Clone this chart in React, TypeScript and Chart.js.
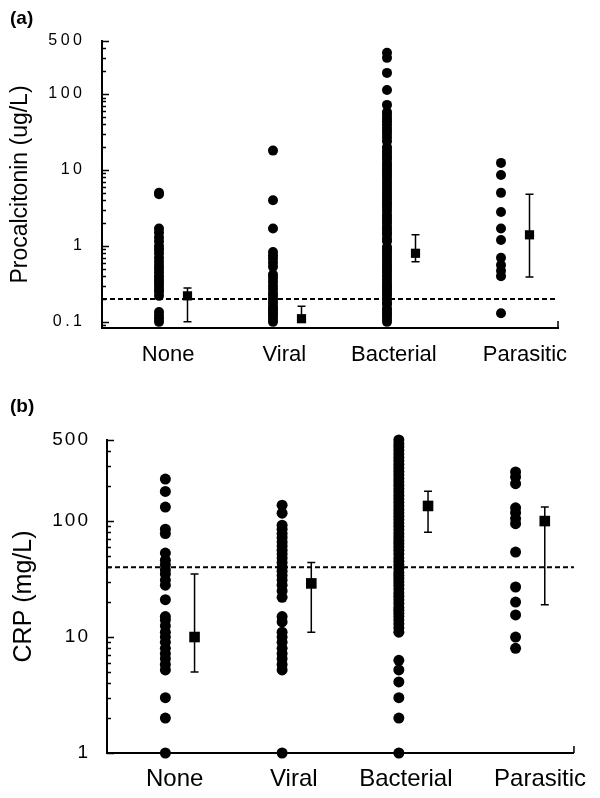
import React, { useEffect, useRef } from "react";
import { Chart, registerables } from "chart.js";

Chart.register(...registerables);

// ---------------- data ----------------
const categories = ["None", "Viral", "Bacterial", "Parasitic"];

// (a) Procalcitonin (ug/L)
const pctNone = [5.0, 4.8, 1.7, 1.5, 1.3, 1.15, 1.0, 0.9, 0.8, 0.7, 0.62, 0.55, 0.5, 0.45, 0.4, 0.36, 0.33, 0.3, 0.27, 0.25, 0.22, 0.135, 0.12, 0.11, 0.1];
const pctViral = [18, 4.0, 1.7, 0.83, 0.75, 0.68, 0.6, 0.53, 0.42, 0.38, 0.34, 0.3, 0.27, 0.24, 0.22, 0.2, 0.18, 0.16, 0.15, 0.14, 0.13, 0.12, 0.11, 0.1];
const pctBacterial = [350, 300, 190, 113, 72, 58, 53, 48, 44, 40, 36, 33, 30, 27, 24, 20, 18, 16.5, 15, 14, 12.5, 11.5, 10.5, 9.6, 8.8, 8, 7.2, 6.6, 6, 5.5, 5, 4.6, 4.2, 3.8, 3.5, 3.2, 2.9, 2.6, 2.4, 2.2, 2.0, 1.8, 1.65, 1.5, 1.4, 1.25, 1.15, 0.97, 0.9, 0.82, 0.75, 0.68, 0.62, 0.57, 0.52, 0.48, 0.44, 0.4, 0.36, 0.33, 0.3, 0.28, 0.26, 0.24, 0.22, 0.2, 0.18, 0.17, 0.15, 0.14, 0.13, 0.12, 0.11, 0.1];
const pctParasitic = [12.4, 8.6, 5.0, 2.8, 1.7, 1.2, 0.7, 0.56, 0.47, 0.4, 0.13];
const pctMean = [0.22, 0.11, 0.8, 1.4];
const pctLow = [0.1, 0.1, 0.62, 0.39];
const pctHigh = [0.28, 0.16, 1.4, 4.8];
const pctCutoff = 0.2;
const pctTickValues = [0.1, 1, 10, 100, 500];
const pctTickLabels = ["0.1", "1", "10", "100", "500"];

// (b) CRP (mg/L)
const crpNone = [230, 180, 132, 85, 78, 53, 46, 42, 38, 35, 31, 28, 21, 15, 14, 12.5, 11, 10, 9, 8, 7.2, 6.5, 5.8, 5.2, 3, 2, 1];
const crpViral = [137, 117, 92, 85, 78, 72, 66, 61, 56, 52, 48, 44, 40, 37, 34, 31, 28, 25, 22, 15, 13.5, 11, 10, 9, 8, 7.2, 6.5, 5.8, 5.2, 1];
const crpBacterial = [500, 465, 435, 405, 378, 353, 330, 307, 287, 268, 250, 233, 218, 204, 190, 178, 166, 155, 145, 135, 126, 118, 110, 103, 96, 90, 84, 78, 73, 68, 64, 60, 56, 52, 48, 45, 42, 39, 36, 34, 32, 30, 28, 26, 24, 22.5, 21, 19.5, 18, 17, 16, 15, 14, 13, 12, 11, 6.3, 5.2, 4.1, 3, 2, 1];
const crpParasitic = [265, 240, 210, 130, 118, 105, 95, 54, 27, 20, 15.5, 10, 8];
const crpMean = [10, 29, 135, 100];
const crpLow = [5, 11, 80, 19];
const crpHigh = [35, 44, 181, 132];
const crpCutoff = 40;
const crpTickValues = [1, 10, 100, 500];
const crpTickLabels = ["1", "10", "100", "500"];

// ---------------- layout ----------------
const FONT = '"Liberation Sans", Arial, Helvetica, sans-serif';
const DOT_OFFSET = 0.5;
const MEAN_OFFSET = 0.75;
const LABEL_POS = [0.58, 1.6, 2.56, 3.71];
const W = 600;

type Geom = {
  height: number; left: number; right: number; top: number; bottom: number;
  dotR: number; meanR: number; tickFont: number; tickSpacing: number; tickGap: number;
  xFont: number; xPad: number; titleFont: number; titlePad: number;
};

type Panel = {
  groups: number[][]; means: number[]; lows: number[]; highs: number[];
  cutoff: number; yMin: number; yMax: number;
  tickValues: number[]; tickLabels: string[]; title: string;
};

const panelA: Panel = {
  groups: [pctNone, pctViral, pctBacterial, pctParasitic],
  means: pctMean, lows: pctLow, highs: pctHigh, cutoff: pctCutoff,
  yMin: 0.083, yMax: 500, tickValues: pctTickValues, tickLabels: pctTickLabels,
  title: "Procalcitonin (ug/L)",
};
const panelB: Panel = {
  groups: [crpNone, crpViral, crpBacterial, crpParasitic],
  means: crpMean, lows: crpLow, highs: crpHigh, cutoff: crpCutoff,
  yMin: 1, yMax: 500, tickValues: crpTickValues, tickLabels: crpTickLabels,
  title: "CRP (mg/L)",
};

const geomA: Geom = {
  height: 370, left: 102, right: 558, top: 41, bottom: 328,
  dotR: 5, meanR: 6.5, tickFont: 16, tickSpacing: 3.5, tickGap: 20,
  xFont: 22, xPad: 14, titleFont: 23, titlePad: 7,
};
const geomB: Geom = {
  height: 428, left: 107, right: 574, top: 70, bottom: 383,
  dotR: 5.5, meanR: 7.5, tickFont: 19, tickSpacing: 2, tickGap: 19,
  xFont: 24, xPad: 12, titleFont: 25, titlePad: 9,
};

function minorValues(min: number, max: number): number[] {
  const out: number[] = [];
  for (let e = -2; e <= 3; e++) {
    const d = Math.pow(10, e);
    for (let k = 2; k <= 9; k++) {
      const v = k * d;
      if (v > min && v <= max) out.push(v);
    }
  }
  return out;
}

function makeDecor(p: Panel, g: Geom) {
  return {
    id: "panelDecor",
    beforeDatasetsDraw(chart: any) {
      const { ctx, chartArea } = chart;
      const x = chart.scales.x;
      const y = chart.scales.y;
      ctx.save();
      ctx.strokeStyle = "#000";
      ctx.lineWidth = 2;
      ctx.setLineDash([5, 3]);
      const yc = y.getPixelForValue(p.cutoff);
      ctx.beginPath();
      ctx.moveTo(chartArea.left, yc);
      ctx.lineTo(chartArea.right, yc);
      ctx.stroke();
      ctx.setLineDash([]);
      ctx.lineWidth = 1.5;
      p.means.forEach((_m, i) => {
        const px = x.getPixelForValue(i + MEAN_OFFSET);
        const yl = y.getPixelForValue(p.lows[i]);
        const yh = y.getPixelForValue(p.highs[i]);
        ctx.beginPath();
        ctx.moveTo(px, yl); ctx.lineTo(px, yh);
        ctx.moveTo(px - 4, yl); ctx.lineTo(px + 4, yl);
        ctx.moveTo(px - 4, yh); ctx.lineTo(px + 4, yh);
        ctx.stroke();
      });
      ctx.restore();
    },
    afterDraw(chart: any) {
      const { ctx, chartArea } = chart;
      const y = chart.scales.y;
      ctx.save();
      ctx.strokeStyle = "#000";
      ctx.fillStyle = "#000";
      // inward tick marks
      ctx.lineWidth = 1.5;
      ctx.beginPath();
      p.tickValues.forEach((v) => {
        const py = Math.round(y.getPixelForValue(v)) + 0.5;
        ctx.moveTo(chartArea.left, py);
        ctx.lineTo(chartArea.left + 7, py);
      });
      minorValues(p.yMin, p.yMax).forEach((v) => {
        const py = Math.round(y.getPixelForValue(v)) + 0.5;
        ctx.moveTo(chartArea.left, py);
        ctx.lineTo(chartArea.left + 4, py);
      });
      // small upturn at the right end of the x axis
      ctx.moveTo(chartArea.right, chartArea.bottom);
      ctx.lineTo(chartArea.right, chartArea.bottom - 7);
      ctx.stroke();
      // tick labels
      ctx.font = `${g.tickFont}px ${FONT}`;
      ctx.textBaseline = "middle";
      ctx.textAlign = "left";
      try { (ctx as any).letterSpacing = `${g.tickSpacing}px`; } catch (e) {}
      p.tickValues.forEach((v, i) => {
        const label = p.tickLabels[i];
        const w = ctx.measureText(label).width - g.tickSpacing;
        ctx.fillText(label, chartArea.left - g.tickGap - w, y.getPixelForValue(v));
      });
      try { (ctx as any).letterSpacing = "0px"; } catch (e) {}
      ctx.restore();
    },
  };
}

function buildConfig(p: Panel, g: Geom): any {
  const datasets: any[] = p.groups.map((vals, i) => ({
    label: categories[i],
    data: vals.map((v) => ({ x: i + DOT_OFFSET, y: v })),
    pointRadius: g.dotR,
    pointHoverRadius: g.dotR,
    pointStyle: "circle",
    backgroundColor: "#000",
    borderColor: "#000",
    borderWidth: 0,
    clip: false,
  }));
  datasets.push({
    label: "mean",
    data: p.means.map((m, i) => ({ x: i + MEAN_OFFSET, y: m })),
    pointRadius: g.meanR,
    pointHoverRadius: g.meanR,
    pointStyle: "rect",
    backgroundColor: "#000",
    borderColor: "#000",
    borderWidth: 0,
    clip: false,
  });
  return {
    type: "scatter",
    data: { datasets },
    plugins: [makeDecor(p, g)],
    options: {
      animation: false,
      responsive: false,
      devicePixelRatio: 1,
      layout: { padding: { left: 0, right: W - g.right, top: g.top, bottom: 0 } },
      plugins: { legend: { display: false }, tooltip: { enabled: false } },
      scales: {
        x: {
          type: "linear",
          position: "bottom",
          min: 0,
          max: 4,
          grid: { display: false, drawTicks: false },
          border: { display: true, color: "#000", width: 2 },
          ticks: {
            autoSkip: false,
            maxRotation: 0,
            minRotation: 0,
            padding: g.xPad,
            color: "#000",
            font: { family: FONT, size: g.xFont },
            callback: (_v: any, i: number) => categories[i],
          },
          afterBuildTicks: (s: any) => {
            s.ticks = LABEL_POS.map((v) => ({ value: v }));
          },
          afterFit: (s: any) => {
            s.height = g.height - g.bottom;
          },
        },
        y: {
          type: "logarithmic",
          position: "left",
          min: p.yMin,
          max: p.yMax,
          grid: { display: false, drawTicks: false },
          border: { display: true, color: "#000", width: 2 },
          ticks: { display: false },
          title: {
            display: true,
            text: p.title,
            color: "#000",
            font: { family: FONT, size: g.titleFont },
            padding: { top: g.titlePad, bottom: 0 },
          },
          afterFit: (s: any) => {
            s.width = g.left;
          },
        },
      },
    },
  };
}

function PanelChart({ panel, geom, top }: { panel: Panel; geom: Geom; top: number }) {
  const ref = useRef<HTMLCanvasElement>(null);
  useEffect(() => {
    if (!ref.current) return;
    const chart = new Chart(ref.current, buildConfig(panel, geom));
    return () => chart.destroy();
  }, []);
  return (
    <canvas
      ref={ref}
      width={W}
      height={geom.height}
      style={{ position: "absolute", left: 0, top, width: W, height: geom.height, display: "block" }}
    />
  );
}

const labelStyle: React.CSSProperties = {
  position: "absolute",
  left: 10,
  fontFamily: FONT,
  fontWeight: "bold",
  fontSize: 19,
  lineHeight: "22px",
  color: "#000",
};

export default function App() {
  return (
    <div style={{ position: "absolute", left: 0, top: 0, width: 600, height: 798, background: "#fff", overflow: "hidden" }}>
      <PanelChart panel={panelA} geom={geomA} top={0} />
      <PanelChart panel={panelB} geom={geomB} top={370} />
      <div style={{ ...labelStyle, top: 7 }}>(a)</div>
      <div style={{ ...labelStyle, top: 395 }}>(b)</div>
    </div>
  );
}
